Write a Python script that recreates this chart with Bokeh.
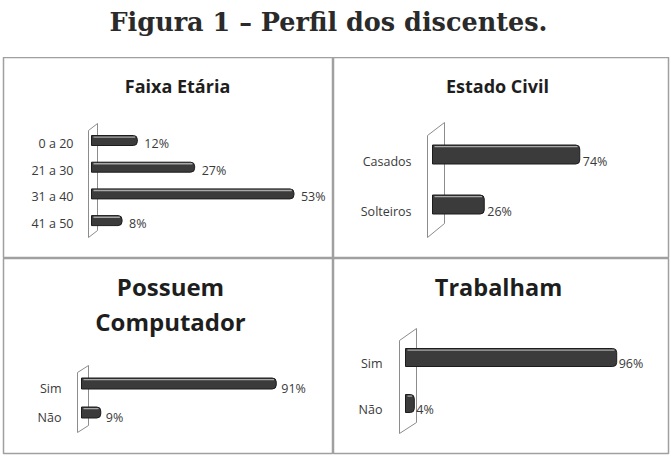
from bokeh.plotting import figure
from bokeh.models import Range1d
from bokeh.layouts import column, row
from bokeh.embed import file_html
from bokeh.resources import INLINE
from bokeh.core.properties import value

# ---------------- data ----------------
figure_title = "Figura 1 – Perfil dos discentes."

faixa_title = ["Faixa Etária"]
faixa_cats = ["0 a 20", "21 a 30", "31 a 40", "41 a 50"]
faixa_vals = [12, 27, 53, 8]

civil_title = ["Estado Civil"]
civil_cats = ["Casados", "Solteiros"]
civil_vals = [74, 26]

comp_title = ["Possuem", "Computador"]
comp_cats = ["Sim", "Não"]
comp_vals = [91, 9]

trab_title = ["Trabalham"]
trab_cats = ["Sim", "Não"]
trab_vals = [96, 4]

FONT = "Open Sans"
BAR = "#3b3b3b"
EDGE = "#1c1c1c"
HIGHLIGHT = "#a8a8a8"
WALL = "#8c8c8c"
BORDER = "#a0a0a0"
TXT = "#3a3a3a"


def make_panel(titles, cats, vals, lay):
    fw, fh = lay["fw"], lay["fh"]
    mbl, mbr, mbb = lay["mbl"], lay["mbr"], lay["mbb"]
    W = fw - mbl - mbr
    H = fh - mbb
    L, s = lay["L"], lay["s"]
    first, step = lay["first"], lay["step"]

    p = figure(width=fw, height=fh, output_backend="svg", toolbar_location=None,
               x_axis_type=None, y_axis_type=None,
               min_border_left=mbl, min_border_right=mbr,
               min_border_top=0, min_border_bottom=mbb)
    p.x_range = Range1d(-L / s, (W - L) / s)
    p.y_range = Range1d((H - first) / step, -first / step)
    p.grid.visible = False
    p.background_fill_color = "white"
    p.border_fill_color = "white"
    p.outline_line_color = BORDER
    p.outline_line_width = 1.5

    def dx(px):
        return (px - L) / s

    def dy(py):
        return (py - first) / step

    # 3D wall (side plane)
    wx = [dx(v) for v in lay["wall_x"]]
    wy = [dy(v) for v in lay["wall_y"]]
    p.patch(wx, wy, fill_color="white", fill_alpha=1.0, line_color=WALL, line_width=1)

    idx = list(range(len(cats)))
    bh = lay["bar_h"] / step
    p.hbar(y=idx, left=0, right=vals, height=bh, fill_color=BAR,
           line_color=EDGE, line_width=1, border_radius=(0, 4, 4, 0))
    hy = [i - bh / 2 + 1.6 / step for i in idx]
    p.segment(x0=[dx(L + 2)] * len(vals), y0=hy, x1=[v - 2.2 / s for v in vals], y1=hy,
              line_color=HIGHLIGHT, line_width=1.4)

    # category labels
    p.text(x=[0] * len(cats), y=idx, text=cats, x_offset=-lay["cat_gap"],
           y_offset=lay["lab_off"], text_align="right", text_baseline="middle",
           text_font=value(FONT), text_font_size=lay["lab_size"], text_color=TXT)
    # value labels
    p.text(x=vals, y=idx, text=[f"{v}%" for v in vals], x_offset=lay["val_gap"],
           y_offset=lay["lab_off"], text_align="left", text_baseline="middle",
           text_font=value(FONT), text_font_size=lay["lab_size"], text_color=TXT)

    # panel title
    ty = [dy(v) for v in lay["title_y"]]
    p.text(x=[dx(lay["title_cx"])] * len(titles), y=ty, text=titles,
           text_align="center", text_baseline="middle", text_font=value(FONT),
           text_font_style="bold", text_font_size=lay["title_size"], text_color="#1e1e1e")
    return p


lay1 = dict(fw=333, fh=201, mbl=3, mbr=0, mbb=0, L=88, s=3.82, first=83, step=26.7,
            bar_h=10, wall_x=[85, 94, 94, 85], wall_y=[73, 66, 173, 180],
            cat_gap=18, val_gap=7, lab_off=3, lab_size="12.5px",
            title_cx=174, title_y=[28], title_size="18px")
lay2 = dict(fw=338, fh=201, mbl=0, mbr=3, mbb=0, L=99, s=1.99, first=97, step=50,
            bar_h=19, wall_x=[94, 111, 111, 94], wall_y=[78, 65, 166, 180],
            cat_gap=21, val_gap=3, lab_off=7, lab_size="12.5px",
            title_cx=164, title_y=[28], title_size="18px")
lay3 = dict(fw=333, fh=199, mbl=3, mbr=0, mbb=4, L=78, s=2.14, first=125, step=29,
            bar_h=11, wall_x=[74, 85, 85, 74], wall_y=[114, 107, 167, 174],
            cat_gap=20, val_gap=5, lab_off=5, lab_size="12.5px",
            title_cx=167, title_y=[28, 63], title_size="24px")
lay4 = dict(fw=338, fh=199, mbl=0, mbr=3, mbb=4, L=72, s=2.2, first=99, step=46,
            bar_h=18, wall_x=[66, 83, 83, 66], wall_y=[82, 70, 164, 175],
            cat_gap=23, val_gap=2, lab_off=6, lab_size="12.5px",
            title_cx=165, title_y=[28], title_size="23.5px")

p1 = make_panel(faixa_title, faixa_cats, faixa_vals, lay1)
p2 = make_panel(civil_title, civil_cats, civil_vals, lay2)
p3 = make_panel(comp_title, comp_cats, comp_vals, lay3)
p4 = make_panel(trab_title, trab_cats, trab_vals, lay4)

# heading
t = figure(width=671, height=57, output_backend="svg", toolbar_location=None,
           x_axis_type=None, y_axis_type=None, min_border=0,
           x_range=Range1d(0, 671), y_range=Range1d(57, 0))
t.grid.visible = False
t.outline_line_color = None
t.text(x=[328], y=[21], text=[figure_title], text_align="center", text_baseline="middle",
       text_font=value("DejaVu Serif"), text_font_style="bold", text_font_size="25.5px",
       text_color="#2a2a2a")

page = column(t, row(p1, p2), row(p3, p4))
open("out.html", "w").write(file_html(page, INLINE))
